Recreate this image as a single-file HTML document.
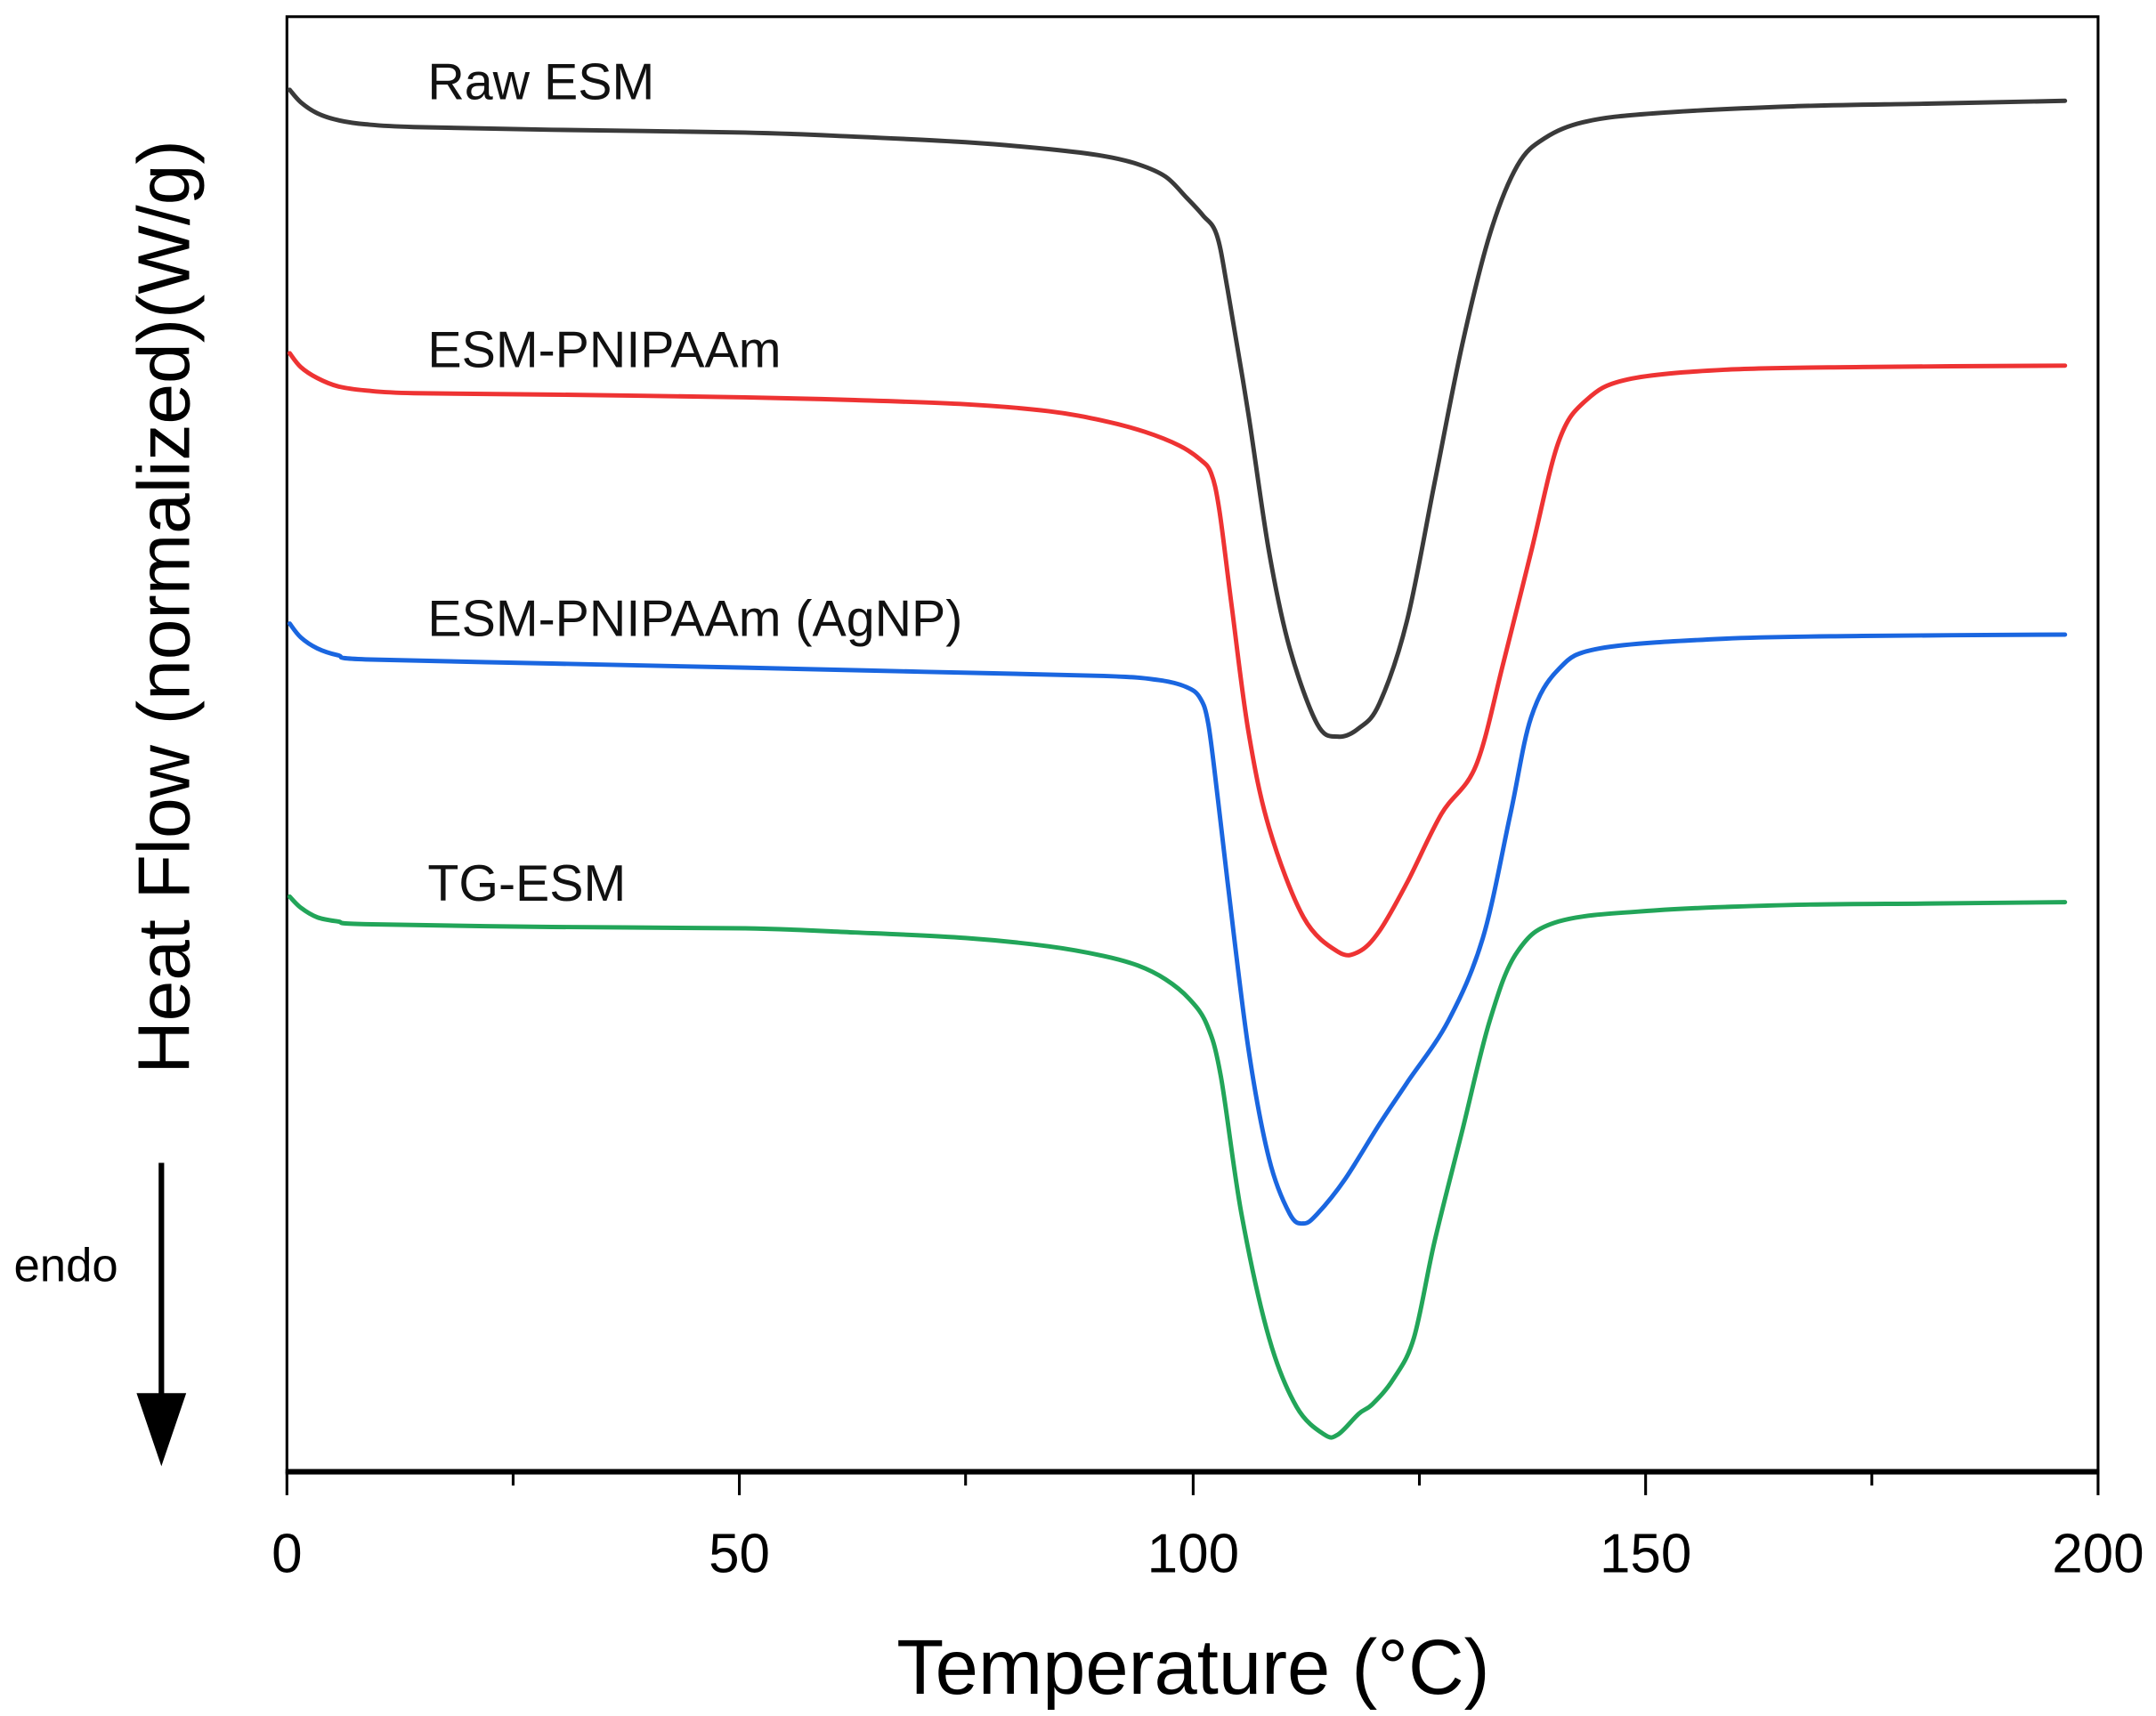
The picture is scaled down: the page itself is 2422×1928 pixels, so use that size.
<!DOCTYPE html>
<html><head><meta charset="utf-8"><style>html,body{margin:0;padding:0;background:#fff}svg{display:block}</style></head>
<body>
<svg id="s" width="2422" height="1928" viewBox="0 0 1563 1244" xmlns="http://www.w3.org/2000/svg" font-family="Liberation Sans, Arial, sans-serif">
<rect x="0" y="0" width="1563" height="1244" fill="#fff"/>
<rect x="208" y="12" width="1313" height="1055" fill="none" stroke="#000" stroke-width="2"/>
<line x1="207" y1="1067" x2="1522" y2="1067" stroke="#000" stroke-width="4"/>
<g stroke="#000" stroke-width="2">
<line x1="208" y1="1067" x2="208" y2="1084"/><line x1="536" y1="1067" x2="536" y2="1084"/><line x1="865" y1="1067" x2="865" y2="1084"/><line x1="1193" y1="1067" x2="1193" y2="1084"/><line x1="1521" y1="1067" x2="1521" y2="1084"/>
<line x1="372" y1="1067" x2="372" y2="1077"/><line x1="700" y1="1067" x2="700" y2="1077"/><line x1="1029" y1="1067" x2="1029" y2="1077"/><line x1="1357" y1="1067" x2="1357" y2="1077"/>
</g>
<g font-size="40" text-anchor="middle" fill="#000">
<text x="208" y="1140">0</text><text x="536" y="1140">50</text><text x="865" y="1140">100</text><text x="1193" y="1140">150</text><text x="1521" y="1140">200</text>
</g>
<text x="865" y="1228" font-size="56" text-anchor="middle">Temperature (°C)</text>
<text transform="translate(137,440) rotate(-90)" font-size="53" text-anchor="middle">Heat Flow (normalized)(W/g)</text>
<line x1="117" y1="843" x2="117" y2="1015" stroke="#000" stroke-width="4"/>
<polygon points="99,1010 135,1010 117,1063" fill="#000"/>
<text x="10" y="929" font-size="34">endo</text>
<g font-size="37" fill="#111">
<text x="310" y="72">Raw ESM</text>
<text x="310" y="266">ESM-PNIPAAm</text>
<text x="310" y="461">ESM-PNIPAAm (AgNP)</text>
<text x="310" y="653">TG-ESM</text>
</g>
<g fill="none" stroke-width="3.2" stroke-linejoin="round" stroke-linecap="round">
<polyline class="c" stroke="#3a3a3a" points="210,65 218,74 230,82 245,87 265,90 300,92 400,94 540,96 620,99 700,103 760,108 800,113 825,119 845,128 860,143 872,156 882,170 890,210 905,300 920,400 935,470 955,525 970,534 985,528 1000,510 1020,450 1040,350 1060,250 1080,170 1100,120 1120,100 1150,88 1200,82 1300,77 1400,75 1497,73"/>
<polyline class="c" stroke="#ee3333" points="210,256 218,266 230,274 245,280 265,283 300,285 400,286 540,288 620,290 700,293 760,298 800,305 830,313 855,323 870,333 878,343 884,370 893,440 905,530 920,600 945,665 970,690 985,690 1000,675 1020,640 1045,590 1070,555 1090,480 1110,400 1130,320 1150,290 1180,275 1250,268 1350,266 1497,265"/>
<polyline class="c" stroke="#1a66e0" points="210,452 218,462 230,470 245,475 265,478 400,481 540,484 670,487 800,490 840,493 860,498 870,506 876,525 883,580 890,640 905,760 920,840 935,880 945,887 955,880 975,855 1000,815 1020,785 1050,740 1075,680 1095,590 1110,520 1130,485 1160,470 1250,463 1350,461 1497,460"/>
<polyline class="c" stroke="#22a559" points="210,650 218,658 230,665 245,668 265,670 400,672 540,673 620,676 700,680 760,686 800,693 825,700 845,710 862,724 875,743 885,780 900,880 920,970 940,1020 960,1040 970,1040 985,1025 995,1018 1010,1000 1025,970 1040,900 1060,820 1080,740 1100,690 1130,668 1200,660 1300,656 1400,655 1497,654"/>
</g>
</svg>
<script>
document.querySelectorAll('polyline.c').forEach(function(pl){
  var p=pl.getAttribute('points').trim().split(/\s+/).map(function(s){return s.split(',').map(Number);});
  var d='M'+p[0][0]+','+p[0][1];
  for(var i=0;i<p.length-1;i++){
    var p0=p[i-1]||p[i],p1=p[i],p2=p[i+1],p3=p[i+2]||p2;
    var c1=[p1[0]+(p2[0]-p0[0])/6,p1[1]+(p2[1]-p0[1])/6];
    var c2=[p2[0]-(p3[0]-p1[0])/6,p2[1]-(p3[1]-p1[1])/6];
    d+=' C'+c1[0]+','+c1[1]+' '+c2[0]+','+c2[1]+' '+p2[0]+','+p2[1];
  }
  var path=document.createElementNS('http://www.w3.org/2000/svg','path');
  path.setAttribute('d',d);path.setAttribute('stroke',pl.getAttribute('stroke'));
  pl.parentNode.replaceChild(path,pl);
});
</script>
</body></html>
